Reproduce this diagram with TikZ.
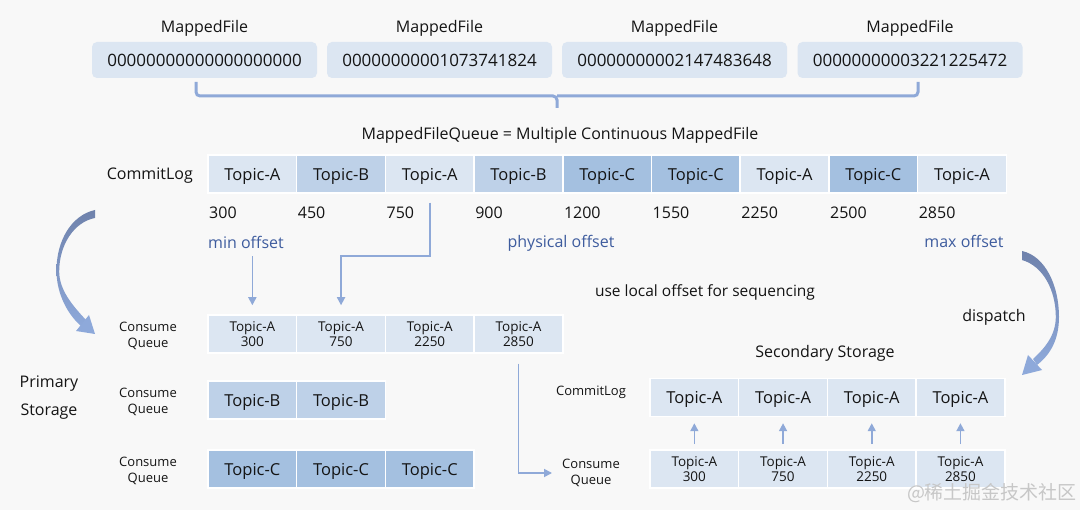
\documentclass[tikz,border=0pt]{standalone}
\usepackage{fontspec}
\setmainfont{Open Sans}
\newfontfamily\cjkfont{Noto Sans CJK SC}
\usetikzlibrary{arrows.meta}
\definecolor{bgc}{HTML}{F8F8F8}
\definecolor{ca}{HTML}{DCE6F2}
\definecolor{cb}{HTML}{BED1E8}
\definecolor{cc}{HTML}{A4C0E0}
\definecolor{fbc}{HTML}{DCE6F2}
\definecolor{lnc}{HTML}{8FA9D8}
\definecolor{arctop}{HTML}{6F82AC}
\definecolor{arcbot}{HTML}{8EA9DA}
\definecolor{blc}{HTML}{3E5C9E}
\definecolor{txc}{HTML}{141414}
\newcommand\fsz[2]{\fontsize{#1}{#2}\selectfont}
\begin{document}
\begin{tikzpicture}[x=1pt,y=-1pt,
  every node/.style={text=txc},
  filebox/.style={fill=fbc, rounded corners=5pt, minimum width=225pt, minimum height=36pt, inner sep=0pt, font=\fsz{17}{20}, text depth=0pt},
  cell/.style={draw=white, line width=1.5pt, minimum width=88.7pt, minimum height=38pt, inner sep=0pt, font=\fsz{16.5}{19}, text depth=0pt},
  scell/.style={draw=white, line width=1.5pt, minimum width=88.7pt, minimum height=38pt, inner sep=0pt, font=\fsz{13.5}{15}, align=center},
  lab/.style={font=\fsz{13}{16}, align=center, inner sep=0pt},
  blab/.style={font=\fsz{16}{19}, text=blc, inner sep=0pt, text depth=0pt},
  txt/.style={font=\fsz{16}{19}, inner sep=0pt, text depth=0pt},
  arr/.style={draw=lnc, line width=1.7pt, -{Triangle[length=8pt,width=8pt]}},
  bracec/.style={draw=lnc, line width=3pt, rounded corners=4pt},
  arcs/.style={top color=arctop, bottom color=arcbot, draw=none}
]
\fill[bgc] (0,0) rectangle (1080,510);
\useasboundingbox (0,0) rectangle (1080,510);

% MappedFiles
\foreach \i/\x/\v in {1/204.5/00000000000000000000, 2/439.5/00000000001073741824, 3/674.5/00000000002147483648, 4/910/00000000003221225472}{
  \node[txt] (mfl\i) at (\x,26) {MappedFile};
  \node[filebox] (mf\i) at (\x,60) {\v};
}
% brace
\draw[bracec] (196,82) |- (557,96) -- (557,108);
\draw[bracec] (918,82) |- (557,96);
\node[txt] (mfq) at (560,133) {MappedFileQueue = Multiple Continuous MappedFile};

% CommitLog
\node[txt, anchor=east] (cl) at (193,174) {CommitLog};
\foreach \i/\t/\c/\o in {0/A/ca/300, 1/B/cb/450, 2/A/ca/750, 3/B/cb/900, 4/C/cc/1200, 5/C/cc/1550, 6/A/ca/2250, 7/C/cc/2500, 8/A/ca/2850}{
  \node[cell, fill=\c] (c\i) at ({252.35+88.7*\i},174) {Topic-\t};
  \node[txt, anchor=west] (o\i) at ({209+88.7*\i},212.5) {\o};
}
\node[blab] (minoff) at (246,242) {min offset};
\node[blab] (phyoff) at (561,241) {physical offset};
\node[blab] (maxoff) at (964,241) {max offset};

% primary storage
\node[txt, align=center, font=\fsz{16}{28}] (ps) at (49,396) {Primary\\Storage};
\node[lab] (q1) at (148,336) {Consume\\Queue};
\node[lab] (q2) at (148,402) {Consume\\Queue};
\node[lab] (q3) at (148,471) {Consume\\Queue};
\foreach \i/\o in {0/300, 1/750, 2/2250, 3/2850}{
  \node[scell, fill=ca] (qa\i) at ({252.35+88.7*\i},334) {Topic-A\\\o};
}
\foreach \i in {0,1}{
  \node[cell, fill=cb] (qb\i) at ({252.35+88.7*\i},400) {Topic-B};
}
\foreach \i in {0,1,2}{
  \node[cell, fill=cc] (qc\i) at ({252.35+88.7*\i},469) {Topic-C};
}

\node[txt, font=\fsz{15.5}{18}] (local) at (705,291) {use local offset for sequencing};
\node[txt] (disp) at (994,315) {dispatch};
\node[txt] (ss) at (825,351) {Secondary Storage};

% secondary storage
\node[lab, text depth=0pt] (scl) at (591,391) {CommitLog};
\node[lab] (sq) at (591,473) {Consume\\Queue};
\foreach \i/\o in {0/300, 1/750, 2/2250, 3/2850}{
  \node[cell, fill=ca] (s\i) at ({694.35+88.7*\i},397.5) {Topic-A};
  \node[scell, fill=ca] (sc\i) at ({694.35+88.7*\i},469) {Topic-A\\\o};
  \draw[arr, shorten <=5pt, shorten >=6pt] (sc\i.north) -- (s\i.south);
}

% connectors
\draw[arr, shorten >=9pt] (qa0.north |- minoff.south) ++(0,8) -- (qa0.north);
\draw[arr, shorten <=9pt, shorten >=9pt] (c2.south) -- (c2.south |- 0,256) -| (qa1.north);
\draw[arr, shorten <=10pt, shorten >=10pt] (qa3.south) |- (sq.west);

% curved arrows (tapered)
\shade[arcs] (95,210) .. controls (72,215) and (56,240) .. (56.5,272)
   .. controls (57,295) and (68,315) .. (82,327)
   -- (86,320) .. controls (72,305) and (59.5,290) .. (59.2,272)
   .. controls (59,245) and (74,222) .. (95,218) -- cycle;
\fill[arcbot] (76,331) -- (89,315) -- (95,334) -- cycle;

\shade[arcs] (1022,251) .. controls (1045,256) and (1059,285) .. (1059,317)
   .. controls (1059,340) and (1050,355) .. (1037,365)
   -- (1033,359) .. controls (1045,348) and (1055.8,335) .. (1055.8,317)
   .. controls (1055.8,290) and (1043,266) .. (1022,260) -- cycle;
\fill[arcbot] (1042,370) -- (1028,355) -- (1022,375) -- cycle;

% watermark
\node[inner sep=0pt, text=black!22, font=\cjkfont\fsz{19}{22}] (wm) at (992,493) {@稀土掘金技术社区};
\end{tikzpicture}
\end{document}
